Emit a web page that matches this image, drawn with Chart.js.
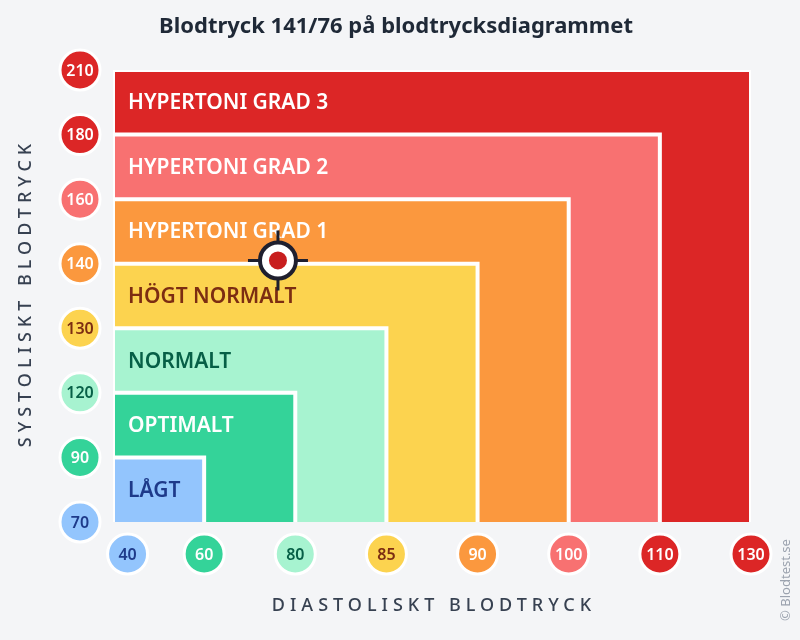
<!DOCTYPE html><html><head><meta charset="utf-8">
<script src="https://cdn.jsdelivr.net/npm/chart.js@4"></script>
<style>html,body{margin:0;background:#f4f5f7}canvas{display:block}</style></head><body>
<div style="width:800px;height:640px"><canvas id="c"></canvas></div>
<script>
const xTicks=['40','60','80','85','90','100','110','130'];
const xTickPos=[0.16,1,2,3,4,5,6,7];
const yTicks=['70','90','120','130','140','160','180','210'];
const zones=['LÅGT','OPTIMALT','NORMALT','HÖGT NORMALT','HYPERTONI GRAD 1','HYPERTONI GRAD 2','HYPERTONI GRAD 3'];
const zoneColors=['#93c5fd','#34d399','#a7f3d0','#fcd34f','#fb983e','#f87171','#dc2626'];
const zoneText=['#1e3a8a','#ffffff','#065f46','#7c2d12','#ffffff','#ffffff','#ffffff'];
const tickColors=['#93c5fd','#34d399','#a7f3d0','#fcd34f','#fb983e','#f87171','#dc2626','#dc2626'];
const tickText=['#1e3a8a','#ffffff','#065f46','#7c2d12','#ffffff','#ffffff','#ffffff','#ffffff'];
const reading={sys:141,dia:76,x:1.81,y:4.05};
const XMIN=0;
const datasets=[];
for(let i=1;i<=7;i++){
  datasets.push({data:[{x:XMIN,y:0},{x:XMIN,y:i},{x:i,y:i},{x:i,y:0}],fill:'origin',
    backgroundColor:zoneColors[i-1],borderColor:'#ffffff',borderWidth:4,pointRadius:0,tension:0});
}
const deco={id:'deco',afterDatasetsDraw(ch){
  const c=ch.ctx,xs=ch.scales.x,ys=ch.scales.y;
  c.save();
  c.font='600 21px "Noto Sans"';c.textBaseline='middle';c.textAlign='left';
  for(let i=0;i<7;i++){
    const yc=(ys.getPixelForValue(i)+ys.getPixelForValue(i+1))/2;
    c.fillStyle=zoneText[i];c.fillText(zones[i],128,yc+1);
  }
  function bubble(x,y,t,i){
    c.beginPath();c.arc(x,y,20,0,Math.PI*2);c.fillStyle=tickColors[i];c.fill();
    c.lineWidth=3;c.strokeStyle='#fff';c.stroke();
    c.fillStyle=tickText[i];
    c.font='600 16px "Noto Sans"';c.textAlign='center';c.textBaseline='middle';c.fillText(t,x,y+1);
  }
  for(let i=0;i<8;i++)bubble(80,ys.getPixelForValue(i),yTicks[i],i);
  for(let i=0;i<8;i++)bubble(xs.getPixelForValue(xTickPos[i]),554,xTicks[i],i);
  const mx=xs.getPixelForValue(reading.x),my=ys.getPixelForValue(reading.y);
  c.strokeStyle='#1f1f2e';c.lineWidth=3;c.beginPath();
  c.moveTo(mx-30,my);c.lineTo(mx+30,my);c.moveTo(mx,my-30);c.lineTo(mx,my+30);c.stroke();
  c.beginPath();c.arc(mx,my,18,0,Math.PI*2);c.fillStyle='#fff';c.fill();c.lineWidth=4;c.stroke();
  c.beginPath();c.arc(mx,my,9,0,Math.PI*2);c.fillStyle='#c81e1e';c.fill();
  c.fillStyle='#1f2937';c.textAlign='center';c.textBaseline='middle';
  c.font='bold 22px "Noto Sans"';c.fillText('Blodtryck '+reading.sys+'/'+reading.dia+' på blodtrycksdiagrammet',396,27);
  c.font='500 18px "Noto Sans"';c.fillStyle='#374151';
  c.letterSpacing='5px';c.fillText('DIASTOLISKT BLODTRYCK',434,606);
  c.save();c.translate(26,293);c.rotate(-Math.PI/2);c.fillText('SYSTOLISKT BLODTRYCK',0,0);c.restore();
  c.letterSpacing='0px';
  c.save();c.translate(786,580);c.rotate(-Math.PI/2);c.font='13px "Noto Sans"';c.fillStyle='#9ca3af';c.fillText('© Blodtest.se',0,0);c.restore();
  c.restore();
}};
new Chart(document.getElementById('c'),{type:'line',data:{datasets},
 options:{responsive:true,maintainAspectRatio:false,animation:false,
  layout:{padding:{left:113,right:49,top:70,bottom:118}},
  plugins:{legend:{display:false},tooltip:{enabled:false}},
  scales:{x:{type:'linear',min:XMIN,max:7,display:false},y:{type:'linear',min:0,max:7,display:false}}},
 plugins:[deco]});
</script></body></html>
